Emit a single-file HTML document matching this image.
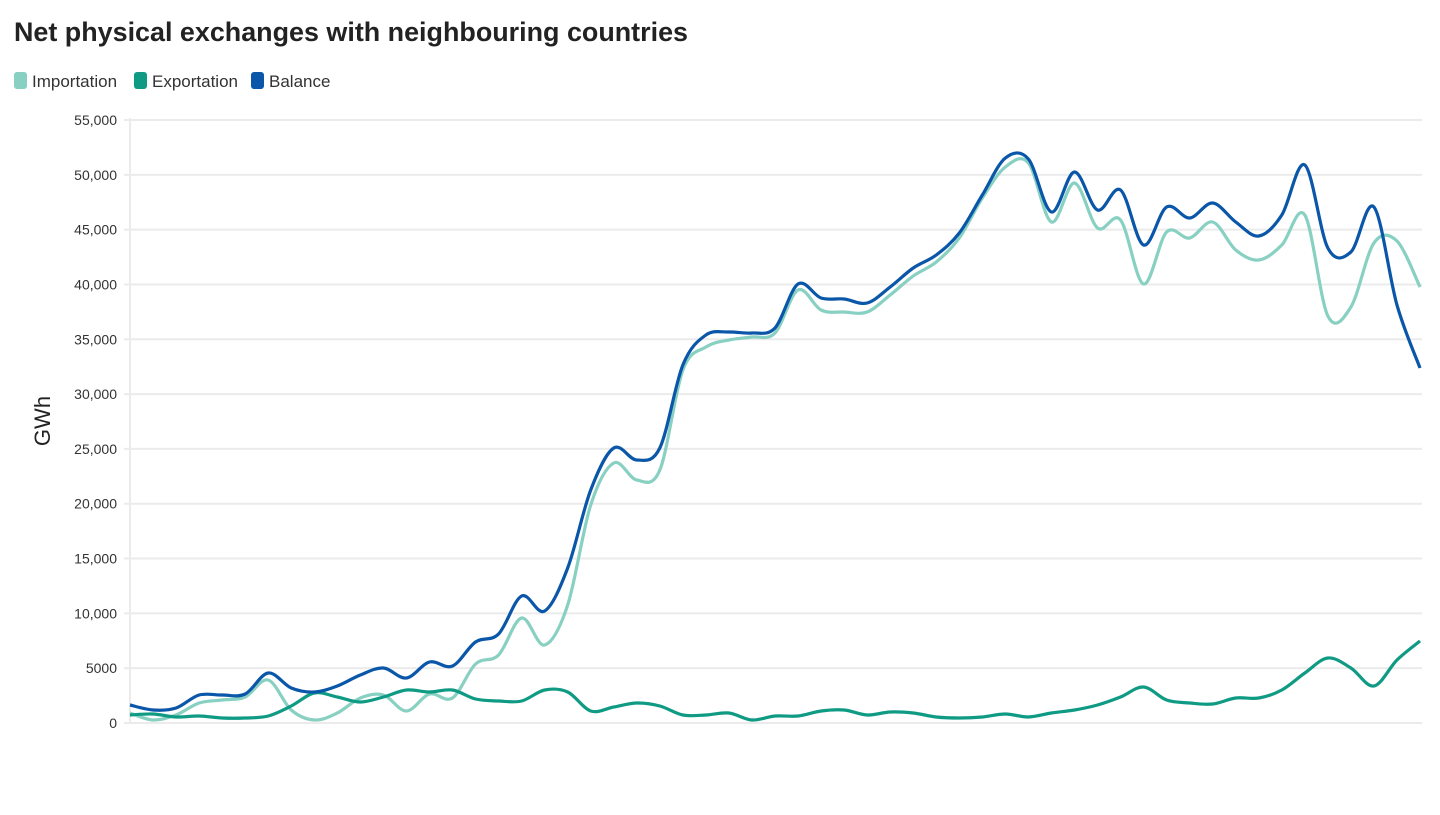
<!DOCTYPE html>
<html><head><meta charset="utf-8"><style>
body{margin:0;background:#fff;width:1440px;height:810px;overflow:hidden;font-family:"Liberation Sans",sans-serif}
</style></head><body>
<svg width="1440" height="810" xmlns="http://www.w3.org/2000/svg" font-family="Liberation Sans, sans-serif">
<text x="14" y="41" font-size="27" font-weight="bold" fill="#222" textLength="674" lengthAdjust="spacingAndGlyphs">Net physical exchanges with neighbouring countries</text>
<rect x="14" y="72" width="13" height="17" rx="3" fill="#88d0c2"/><text x="32" y="87" font-size="17" fill="#333">Importation</text>
<rect x="134" y="72" width="13" height="17" rx="3" fill="#0f9a84"/><text x="152" y="87" font-size="17" fill="#333">Exportation</text>
<rect x="251" y="72" width="13" height="17" rx="3" fill="#0a56a8"/><text x="269" y="87" font-size="17" fill="#333">Balance</text>
<g id="grid" stroke="#ebebeb" stroke-width="2"></g>
<line x1="130" y1="118" x2="130" y2="724" stroke="#ebebeb" stroke-width="2"/>
<g id="lab" font-size="14" fill="#333" text-anchor="end"></g>
<text transform="translate(50,421) rotate(-90)" font-size="22" fill="#222" text-anchor="middle">GWh</text>
<g id="ser" fill="none" stroke-width="3.2" stroke-linejoin="round"></g>
</svg>
<script>
var ns="http://www.w3.org/2000/svg";
var g=document.getElementById('grid'),lb=document.getElementById('lab');
for(var i=0;i<=11;i++){var y=723-i*(603/11);
var l=document.createElementNS(ns,'line');l.setAttribute('x1',124);l.setAttribute('x2',1422);l.setAttribute('y1',y);l.setAttribute('y2',y);g.appendChild(l);
var t=document.createElementNS(ns,'text');t.setAttribute('x',117);t.setAttribute('y',y+5);
var v=i*5000;t.textContent=v>=10000?v.toLocaleString('en-US'):String(v);lb.appendChild(t);}
var imp=[713,720,715,703,700,697,680,710,720,713,698,695,711,694,698,664,655,618,645,605,505,463,480,470,370,347,340,337,333,290,310,312,312,295,276,262,238,198,167,163,222,183,228,220,284,232,238,222,250,260,245,215,316,307,243,241,287];
var exp=[715,714,717,716,718,718,716,706,693,697,702,697,690,692,690,699,701,701,690,692,711,707,703,706,715,715,713,720,716,716,711,710,715,712,713,717,718,717,714,717,713,710,705,697,687,700,703,704,698,698,690,673,658,668,686,660,641];
var bal=[705,710,708,695,695,694,673,688,692,686,675,668,678,662,666,642,634,596,611,568,490,448,460,448,365,335,332,333,328,284,298,299,303,287,268,255,233,195,158,159,212,172,210,190,245,207,218,203,222,236,215,165,248,252,207,305,368];
function path(ys){var n=ys.length,dx=1290/(n-1),p=ys.map(function(y,i){return[130+i*dx,y]});
var d='M'+p[0][0]+','+p[0][1];
for(var i=0;i<n-1;i++){var p0=p[Math.max(0,i-1)],p1=p[i],p2=p[i+1],p3=p[Math.min(n-1,i+2)];
var c1=[p1[0]+(p2[0]-p0[0])/6,p1[1]+(p2[1]-p0[1])/6],c2=[p2[0]-(p3[0]-p1[0])/6,p2[1]-(p3[1]-p1[1])/6];
d+=' C'+c1.join(',')+' '+c2.join(',')+' '+p2.join(',');}return d;}
var s=document.getElementById('ser');
[[imp,'#88d0c2'],[exp,'#0f9a84'],[bal,'#0a56a8']].forEach(function(a){var e=document.createElementNS(ns,'path');e.setAttribute('d',path(a[0]));e.setAttribute('stroke',a[1]);s.appendChild(e);});
</script>
</body></html>
